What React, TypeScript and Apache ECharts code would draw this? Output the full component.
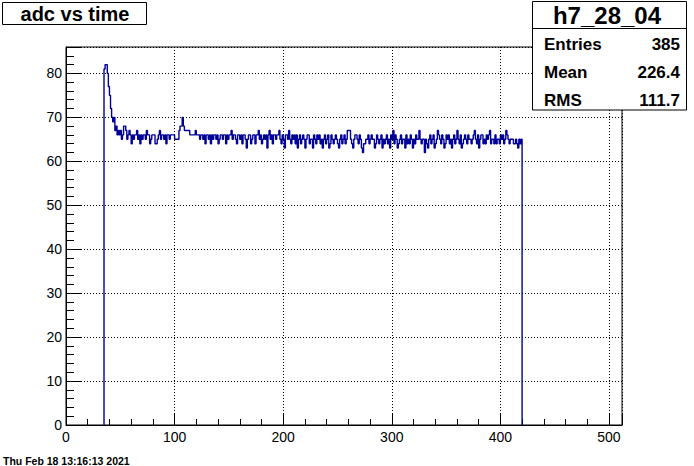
import React, { useEffect, useRef } from "react";
import * as echarts from "echarts";

// ---------- data ----------
const histTitle = "adc vs time";
const statsName = "h7_28_04";
const statsLabels = ["Entries", "Mean", "RMS"];
const statsValues = ["385", "226.4", "111.7"];
const dateText = "Thu Feb 18 13:16:13 2021";

const xMin = 0;
const xMax = 512;
const xMajor = 100;
const xMinor = 20;
const yMin = 0;
const yMax = 86;
const yMajor = 10;
const yMinor = 2;

// first filled bin (lower edge); bins are 1 unit wide
const binStart = 35;
// bin contents, bins 35 .. 419
const adcValues = [
  81, 82, 82, 80, 77, 75, 72, 70, 69, 70, 67, 68, 66, 67, 66, 67, 65, 66, 68, 68,
  67, 65, 66, 67, 66, 64, 66, 65, 66, 66, 67, 65, 66, 64, 66, 65, 66, 66, 65, 67,
  66, 66, 64, 65, 66, 66, 66, 64, 64, 65, 66, 67, 65, 66, 66, 65, 66, 64, 66, 66,
  65, 66, 66, 66, 66, 65, 65, 65, 65, 67, 68, 68, 70, 68, 67, 67, 67, 67, 67, 66,
  66, 66, 66, 66, 67, 66, 66, 66, 65, 66, 66, 65, 66, 64, 66, 66, 65, 66, 64, 66,
  65, 66, 66, 65, 66, 64, 65, 66, 66, 65, 66, 66, 64, 66, 65, 66, 66, 67, 65, 66,
  66, 65, 64, 66, 66, 65, 66, 64, 66, 66, 65, 63, 65, 66, 66, 64, 65, 66, 66, 64,
  66, 66, 67, 65, 66, 64, 65, 66, 65, 66, 63, 66, 67, 65, 66, 64, 66, 66, 65, 66,
  66, 67, 65, 64, 66, 65, 63, 66, 66, 65, 67, 65, 64, 66, 65, 66, 64, 66, 63, 65,
  66, 64, 65, 66, 65, 63, 65, 66, 66, 64, 65, 65, 63, 66, 65, 64, 66, 65, 66, 64,
  65, 63, 65, 66, 64, 65, 66, 63, 64, 66, 65, 64, 65, 66, 65, 64, 63, 65, 66, 64,
  65, 66, 64, 65, 67, 67, 67, 65, 64, 63, 65, 66, 66, 65, 64, 66, 65, 63, 62, 64,
  64, 65, 65, 66, 64, 65, 66, 65, 65, 63, 64, 66, 65, 64, 65, 66, 63, 65, 64, 65,
  66, 64, 65, 63, 66, 65, 67, 64, 66, 65, 63, 64, 65, 66, 64, 65, 65, 63, 66, 64,
  65, 64, 66, 65, 63, 65, 64, 66, 65, 65, 67, 65, 64, 65, 65, 62, 65, 64, 63, 65,
  66, 64, 65, 66, 63, 64, 65, 67, 66, 65, 64, 66, 65, 63, 64, 66, 65, 66, 64, 65,
  63, 65, 66, 64, 65, 67, 65, 64, 66, 63, 64, 65, 66, 65, 64, 66, 65, 65, 64, 65,
  66, 67, 65, 64, 66, 63, 65, 66, 66, 64, 65, 64, 66, 65, 66, 67, 64, 65, 65, 64,
  66, 64, 65, 65, 64, 66, 65, 66, 64, 65, 67, 66, 65, 64, 65, 65, 65, 64, 64, 65,
  64, 63, 65, 64, 65,
];

const FONT = '"Liberation Sans", Arial, Helvetica, sans-serif';
const LINE_COLOR = "#000099";

export default function App() {
  const ref = useRef<HTMLDivElement | null>(null);

  useEffect(() => {
    if (!ref.current) return;
    const chart = echarts.init(ref.current, undefined, { renderer: "svg" });

    const stepData: number[][] = [[binStart, 0]];
    adcValues.forEach((v, i) => stepData.push([binStart + i, v]));
    stepData.push([binStart + adcValues.length, 0]);

    const dotted = { color: "#000", width: 1, type: [1, 2] as any };

    const option: any = {
      animation: false,
      backgroundColor: "#fff",
      grid: {
        left: 66,
        right: 72,
        top: 47,
        bottom: 41,
        show: true,
        borderColor: "#000",
        borderWidth: 1,
        backgroundColor: "transparent",
        containLabel: false,
      },
      xAxis: [
        {
          type: "value",
          position: "bottom",
          min: xMin,
          max: xMax,
          interval: xMajor,
          axisLine: { show: true, onZero: false, lineStyle: { color: "#000", width: 1 } },
          axisTick: { show: true, inside: true, length: 11, lineStyle: { color: "#000" } },
          axisLabel: {
            show: true,
            margin: 5,
            color: "#000",
            fontFamily: FONT,
            fontSize: 14,
            formatter: (v: number) => (v % xMajor === 0 ? String(v) : ""),
          },
          splitLine: { show: true, lineStyle: dotted },
        },
        {
          type: "value",
          position: "bottom",
          min: xMin,
          max: xMax,
          interval: xMinor,
          axisLine: { show: false },
          axisTick: { show: true, inside: true, length: 6, lineStyle: { color: "#000" } },
          axisLabel: { show: false },
          splitLine: { show: false },
        },
      ],
      yAxis: [
        {
          type: "value",
          position: "left",
          min: yMin,
          max: yMax,
          interval: yMajor,
          axisLine: { show: true, onZero: false, lineStyle: { color: "#000", width: 1 } },
          axisTick: { show: true, inside: true, length: 16, lineStyle: { color: "#000" } },
          axisLabel: {
            show: true,
            margin: 4,
            color: "#000",
            fontFamily: FONT,
            fontSize: 14,
            formatter: (v: number) => (v % yMajor === 0 ? String(v) : ""),
          },
          splitLine: { show: true, lineStyle: dotted },
        },
        {
          type: "value",
          position: "left",
          min: yMin,
          max: yMax,
          interval: yMinor,
          axisLine: { show: false },
          axisTick: { show: true, inside: true, length: 8, lineStyle: { color: "#000" } },
          axisLabel: { show: false },
          splitLine: { show: false },
        },
      ],
      series: [
        {
          type: "line",
          xAxisIndex: 0,
          yAxisIndex: 0,
          step: "end",
          data: stepData,
          symbol: "none",
          showSymbol: false,
          lineStyle: { color: LINE_COLOR, width: 1.4 },
          z: 5,
        },
      ],
      graphic: [
        {
          type: "rect",
          z: 100,
          shape: { x: 2.5, y: 2.5, width: 144, height: 22 },
          style: { fill: "#fff", stroke: "#000", lineWidth: 1 },
        },
        {
          type: "text",
          z: 101,
          x: 75,
          y: 14,
          style: {
            text: histTitle,
            font: `bold 20px ${FONT}`,
            fill: "#000",
            align: "center",
            verticalAlign: "middle",
          },
        },
        {
          type: "rect",
          z: 100,
          shape: { x: 532.5, y: 1.5, width: 154, height: 108.5 },
          style: { fill: "#fff", stroke: "#000", lineWidth: 1 },
        },
        {
          type: "line",
          z: 101,
          shape: { x1: 532.5, y1: 28.5, x2: 686.5, y2: 28.5 },
          style: { stroke: "#000", lineWidth: 1 },
        },
        {
          type: "text",
          z: 101,
          x: 607,
          y: 15,
          style: {
            text: statsName,
            font: `bold 24px ${FONT}`,
            fill: "#000",
            align: "center",
            verticalAlign: "middle",
          },
        },
        ...statsLabels.map((t, i) => ({
          type: "text",
          z: 101,
          x: 544,
          y: 44 + i * 28,
          style: {
            text: t,
            font: `bold 17px ${FONT}`,
            fill: "#000",
            align: "left",
            verticalAlign: "middle",
          },
        })),
        ...statsValues.map((t, i) => ({
          type: "text",
          z: 101,
          x: 680,
          y: 44 + i * 28,
          style: {
            text: t,
            font: `bold 17px ${FONT}`,
            fill: "#000",
            align: "right",
            verticalAlign: "middle",
          },
        })),
        {
          type: "text",
          z: 101,
          x: 3,
          y: 461,
          style: {
            text: dateText,
            font: `bold 10.5px ${FONT}`,
            fill: "#000",
            align: "left",
            verticalAlign: "middle",
          },
        },
      ],
    };

    chart.setOption(option);
    return () => chart.dispose();
  }, []);

  return (
    <div
      ref={ref}
      style={{ width: 694, height: 466, position: "absolute", left: 0, top: 0, background: "#fff" }}
    />
  );
}
